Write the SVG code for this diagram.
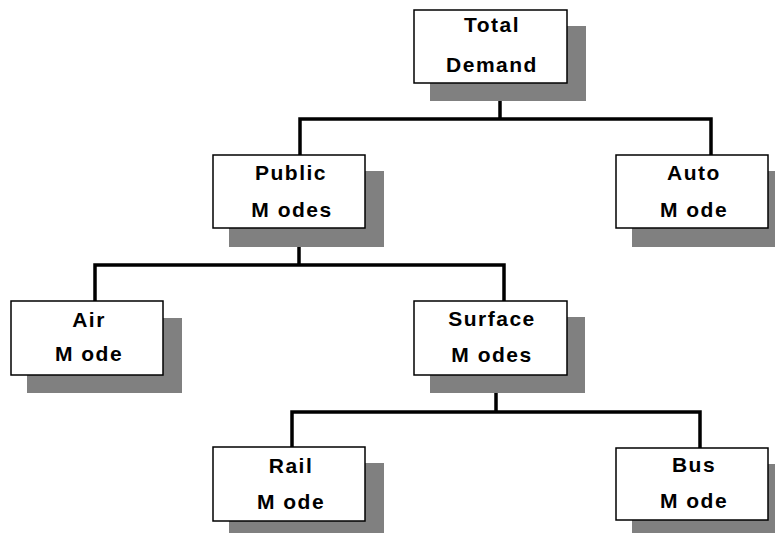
<svg xmlns="http://www.w3.org/2000/svg" width="775" height="533" viewBox="0 0 775 533">
  <style>
    .shadow { fill: #808080; }
    .box { fill: #ffffff; stroke: #000000; stroke-width: 1.5; }
    .label { font-family: "Liberation Sans", Arial, sans-serif; font-weight: bold; font-size: 21px; letter-spacing: 1.5px; fill: #000000; text-anchor: middle; }
    .wire { fill: none; stroke: #000000; stroke-width: 3.5; stroke-linecap: square; }
  </style>
  <rect width="775" height="533" fill="#ffffff"/>

  <!-- tree connectors -->
  <g id="connectors">
    <path class="wire" d="M500,101 V119 M300,155 V119 H711 V155"/>
    <path class="wire" d="M299,247 V265 M95,301 V265 H504 V301"/>
    <path class="wire" d="M496,393 V412 M292,447 V412 H700 V447"/>
  </g>

  <g id="total-demand">
    <rect class="shadow" x="430" y="26" width="156" height="75"/>
    <rect class="box" x="414" y="10" width="153" height="73"/>
    <text class="label" x="492" y="32">Total</text>
    <text class="label" x="492" y="72">Demand</text>
  </g>

  <g id="public-modes">
    <rect class="shadow" x="229" y="171" width="155" height="76"/>
    <rect class="box" x="213" y="155" width="152" height="73"/>
    <text class="label" x="291" y="180">Public</text>
    <text class="label" x="292" y="217">M odes</text>
  </g>

  <g id="auto-mode">
    <rect class="shadow" x="632" y="171" width="156" height="76"/>
    <rect class="box" x="616" y="155" width="152" height="73"/>
    <text class="label" x="694" y="180">Auto</text>
    <text class="label" x="694" y="217">M ode</text>
  </g>

  <g id="air-mode">
    <rect class="shadow" x="27" y="318" width="155" height="75"/>
    <rect class="box" x="11" y="301" width="152" height="74"/>
    <text class="label" x="89" y="327">Air</text>
    <text class="label" x="89" y="361">M ode</text>
  </g>

  <g id="surface-modes">
    <rect class="shadow" x="430" y="317" width="155" height="76"/>
    <rect class="box" x="414" y="301" width="153" height="74"/>
    <text class="label" x="492" y="326">Surface</text>
    <text class="label" x="492" y="362">M odes</text>
  </g>

  <g id="rail-mode">
    <rect class="shadow" x="229" y="463" width="155" height="75"/>
    <rect class="box" x="213" y="447" width="152" height="74"/>
    <text class="label" x="291" y="473">Rail</text>
    <text class="label" x="291" y="509">M ode</text>
  </g>

  <g id="bus-mode">
    <rect class="shadow" x="632" y="464" width="156" height="75"/>
    <rect class="box" x="616" y="448" width="152" height="72"/>
    <text class="label" x="694" y="472">Bus</text>
    <text class="label" x="694" y="508">M ode</text>
  </g>
</svg>
